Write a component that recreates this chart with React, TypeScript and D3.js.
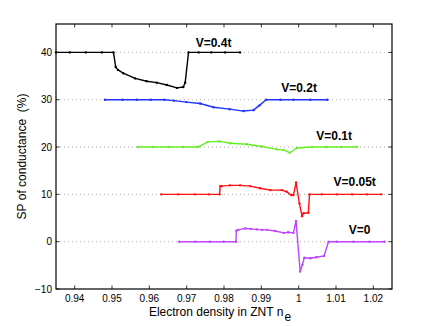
import * as d3 from 'd3';

// x = electron density, y = SP of conductance (%)
const v04X = [0.935, 0.9387, 0.943, 0.9473, 0.9504, 0.951, 0.9516, 0.953, 0.9562, 0.9593, 0.962, 0.9647, 0.9674, 0.9691, 0.9696, 0.9705, 0.9732, 0.9766, 0.9803, 0.9843];
const v04Y = [40, 40, 40, 40, 40, 36.9, 36.3, 35.6, 34.5, 33.9, 33.6, 33.1, 32.5, 32.7, 33.6, 40, 40, 40, 40, 40];

const v02X = [0.9481, 0.9528, 0.9566, 0.9604, 0.964, 0.9666, 0.9699, 0.9736, 0.9772, 0.9815, 0.9852, 0.9879, 0.9895, 0.9913, 0.9951, 0.9986, 1.0031, 1.0077];
const v02Y = [30, 30, 30, 30, 30, 29.8, 29.5, 29.2, 28.4, 28.0, 27.6, 27.8, 28.8, 30, 30, 30, 30, 30];

const v01X = [0.9569, 0.9609, 0.9651, 0.9691, 0.973, 0.9757, 0.9788, 0.9817, 0.9861, 0.9901, 0.9942, 0.9959, 0.9976, 0.9995, 1.0036, 1.0074, 1.0114, 1.0156];
const v01Y = [20, 20, 20, 20, 20, 21.1, 21.2, 20.8, 20.6, 20.1, 19.5, 19.4, 18.8, 19.8, 20, 20, 20, 20];

const v005X = [0.9632, 0.9677, 0.9722, 0.9759, 0.9788, 0.979, 0.9794, 0.9816, 0.9843, 0.987, 0.9897, 0.9924, 0.9955, 0.9968, 0.998, 0.9986, 0.9993, 1.0002, 1.0009, 1.0013, 1.0026, 1.0029, 1.0062, 1.0102, 1.0143, 1.0183, 1.0221];
const v005Y = [10, 10, 10, 10, 10, 11.75, 11.75, 11.9, 11.9, 11.75, 11.3, 10.9, 10.9, 10.55, 9.85, 9.85, 12.5, 8.1, 5.4, 6.0, 6.1, 10, 10, 10, 10, 10, 10];

const v0X = [0.968, 0.9723, 0.9762, 0.9799, 0.9832, 0.9833, 0.9838, 0.9857, 0.9872, 0.9888, 0.9902, 0.9915, 0.9937, 0.996, 0.9972, 0.9986, 0.9993, 1.0004, 1.001, 1.0015, 1.0031, 1.0047, 1.0068, 1.008, 1.0102, 1.0147, 1.019, 1.023];
const v0Y = [0, 0, 0, 0, 0, 2.3, 2.5, 2.8, 2.7, 2.6, 2.5, 2.5, 2.25, 1.85, 2.0, 1.85, 4.4, -6.3, -4.9, -3.4, -3.5, -3.3, -3.0, 0, 0, 0, 0, 0];

const seriesNames = ['V=0.4t', 'V=0.2t', 'V=0.1t', 'V=0.05t', 'V=0'];
const seriesColors = ['#000000', '#2233ff', '#66ee22', '#ff1111', '#bb44ff'];
const seriesX = [v04X, v02X, v01X, v005X, v0X];
const seriesY = [v04Y, v02Y, v01Y, v005Y, v0Y];
// label anchor in data coords
const labelX = [0.9772, 1.0001, 1.0095, 1.015, 1.0163];
const labelY = [42, 32.5, 22.3, 12.6, 2.5];

const xTicks = [0.94, 0.95, 0.96, 0.97, 0.98, 0.99, 1, 1.01, 1.02];
const yTicks = [-10, 0, 10, 20, 30, 40];

const App = () => {
  const W = 432;
  const H = 326;
  const margin = { top: 24, right: 40, bottom: 37, left: 56 };
  const iw = W - margin.left - margin.right;
  const ih = H - margin.top - margin.bottom;

  const x = d3.scaleLinear().domain([0.935, 1.025]).range([0, iw]);
  const y = d3.scaleLinear().domain([-10, 46]).range([ih, 0]);

  const line = d3.line<[number, number]>()
    .x(d => x(d[0]))
    .y(d => y(d[1]));

  const font = 'Liberation Sans, Arial, Helvetica, sans-serif';
  const tickFmt = (v: number) => (v < 0 ? '\u2212' + Math.abs(v) : String(v));

  return (
    <div style={{ position: 'absolute', left: 0, top: 0 }}>
      <svg width={W} height={H} style={{ display: 'block', background: '#fff' }}>
        <g transform={`translate(${margin.left},${margin.top})`}>
          {/* dotted horizontal grid */}
          {yTicks.filter(t => t > -10).map(t => (
            <line key={'g' + t} x1={0} x2={iw} y1={y(t)} y2={y(t)}
              stroke="#aaa" strokeWidth={1} strokeDasharray="1,3" />
          ))}

          {/* series */}
          {seriesX.map((xs, i) => {
            const pts = xs.map((v, j) => [v, seriesY[i][j]] as [number, number]);
            return (
              <g key={seriesNames[i]}>
                <path d={line(pts) || ''} fill="none" stroke={seriesColors[i]} strokeWidth={1.4} strokeLinejoin="round" />
                {pts.map((p, j) => (
                  <circle key={j} cx={x(p[0])} cy={y(p[1])} r={1.2} fill={seriesColors[i]} />
                ))}
                <text x={x(labelX[i])} y={y(labelY[i])} fontFamily={font} fontSize={12} fontWeight="bold"
                  textAnchor="middle" dominantBaseline="central" fill="#000">{seriesNames[i]}</text>
              </g>
            );
          })}

          {/* box */}
          <rect x={0} y={0} width={iw} height={ih} fill="none" stroke="#000" strokeWidth={1.2} />

          {/* x ticks */}
          {xTicks.map(t => (
            <g key={'x' + t}>
              <line x1={x(t)} x2={x(t)} y1={ih} y2={ih - 3.5} stroke="#000" strokeWidth={0.8} />
              <line x1={x(t)} x2={x(t)} y1={0} y2={3.5} stroke="#000" strokeWidth={0.8} />
              <text x={x(t)} y={ih + 13} fontFamily={font} fontSize={10} textAnchor="middle" fill="#000">{t}</text>
            </g>
          ))}

          {/* y ticks */}
          {yTicks.map(t => (
            <g key={'y' + t}>
              <line x1={0} x2={3.5} y1={y(t)} y2={y(t)} stroke="#000" strokeWidth={0.8} />
              <line x1={iw} x2={iw - 3.5} y1={y(t)} y2={y(t)} stroke="#000" strokeWidth={0.8} />
              <text x={-4} y={y(t)} fontFamily={font} fontSize={10} textAnchor="end" dominantBaseline="central" fill="#000">{tickFmt(t)}</text>
            </g>
          ))}

          {/* axis labels */}
          <text x={iw / 2 - 4} y={ih + 27} fontFamily={font} fontSize={12} textAnchor="middle" fill="#000">
            Electron density in ZNT n<tspan dy={5} dx={1} fontSize={12}>e</tspan>
          </text>
          <text transform={`translate(${-30},${ih / 2}) rotate(-90)`} fontFamily={font} fontSize={12}
            textAnchor="middle" fill="#000" style={{ whiteSpace: 'pre' }}>
            {'SP of conductance  (%)'}
          </text>
        </g>
      </svg>
    </div>
  );
};

export default App;
